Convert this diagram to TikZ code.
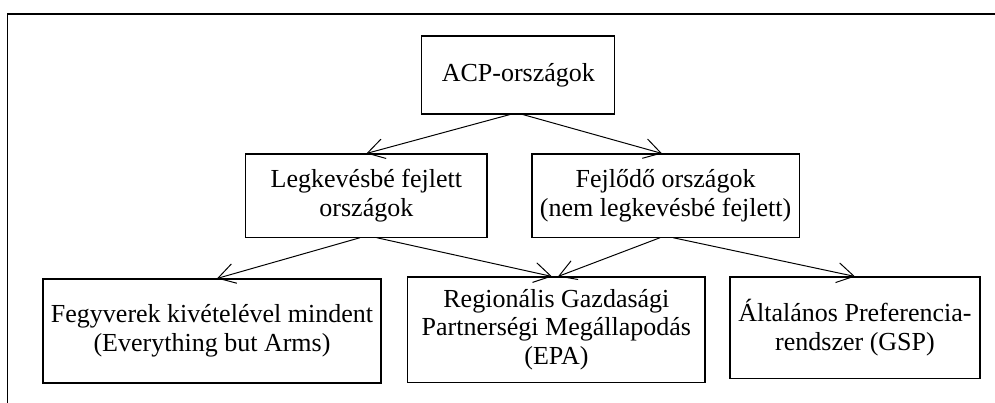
\documentclass[tikz,border=0pt]{standalone}
\usepackage{fontspec}
\setmainfont{Liberation Serif}
\usepackage{tikz}
\usetikzlibrary{positioning, arrows.meta}

\begin{document}
\begin{tikzpicture}[
    box/.style={draw, line width=0.75pt, inner sep=0pt, align=center,
      font=\fontsize{18.5}{20.5}\selectfont},
    arr/.style={line width=0.7pt, -{Straight Barb[length=4.2mm, width=5mm]}}]
\useasboundingbox (0,0) rectangle (24.875,-10.075);
\draw[line width=1pt] (24.875,-0.35) -- (0.19,-0.35) -- (0.19,-10.075);
\node[box, minimum width=4.825cm, minimum height=1.95cm] (acp) at (12.96,-1.875) {ACP-országok};
\node[box, minimum width=6.03cm, minimum height=2.08cm] (legk) at (9.16,-4.89) {Legkevésbé fejlett\\országok};
\node[box, minimum width=6.68cm, minimum height=2.08cm] (fejl) at (16.64,-4.89) {Fejlődő országok\\(nem legkevésbé fejlett)};
\node[box, minimum width=8.45cm, minimum height=2.6cm] (eba) at (5.3,-8.275) {Fegyverek kivételével mindent\\(Everything but Arms)};
\node[box, minimum width=7.43cm, minimum height=2.63cm] (epa) at (13.91,-8.24) {Regionális Gazdasági\\Partnerségi Megállapodás\\(EPA)};
\node[box, minimum width=6.25cm, minimum height=2.53cm] (gsp) at (21.375,-8.19) {Általános Preferencia-\\rendszer (GSP)};
\draw[arr] ([xshift=-0.21cm]acp.south) -- (legk.north);
\draw[arr] ([xshift=0.11cm]acp.south) -- ([xshift=-0.09cm]fejl.north);
\draw[arr] ([xshift=-0.16cm]legk.south) -- ([xshift=0.125cm]eba.north);
\draw[arr] ([xshift=0.26cm]legk.south) -- ([xshift=-0.11cm]epa.north);
\draw[arr] ([xshift=-0.14cm]fejl.south) -- ([xshift=0.04cm]epa.north);
\draw[arr] ([xshift=0.19cm]fejl.south) -- (gsp.north);
\end{tikzpicture}
\end{document}
